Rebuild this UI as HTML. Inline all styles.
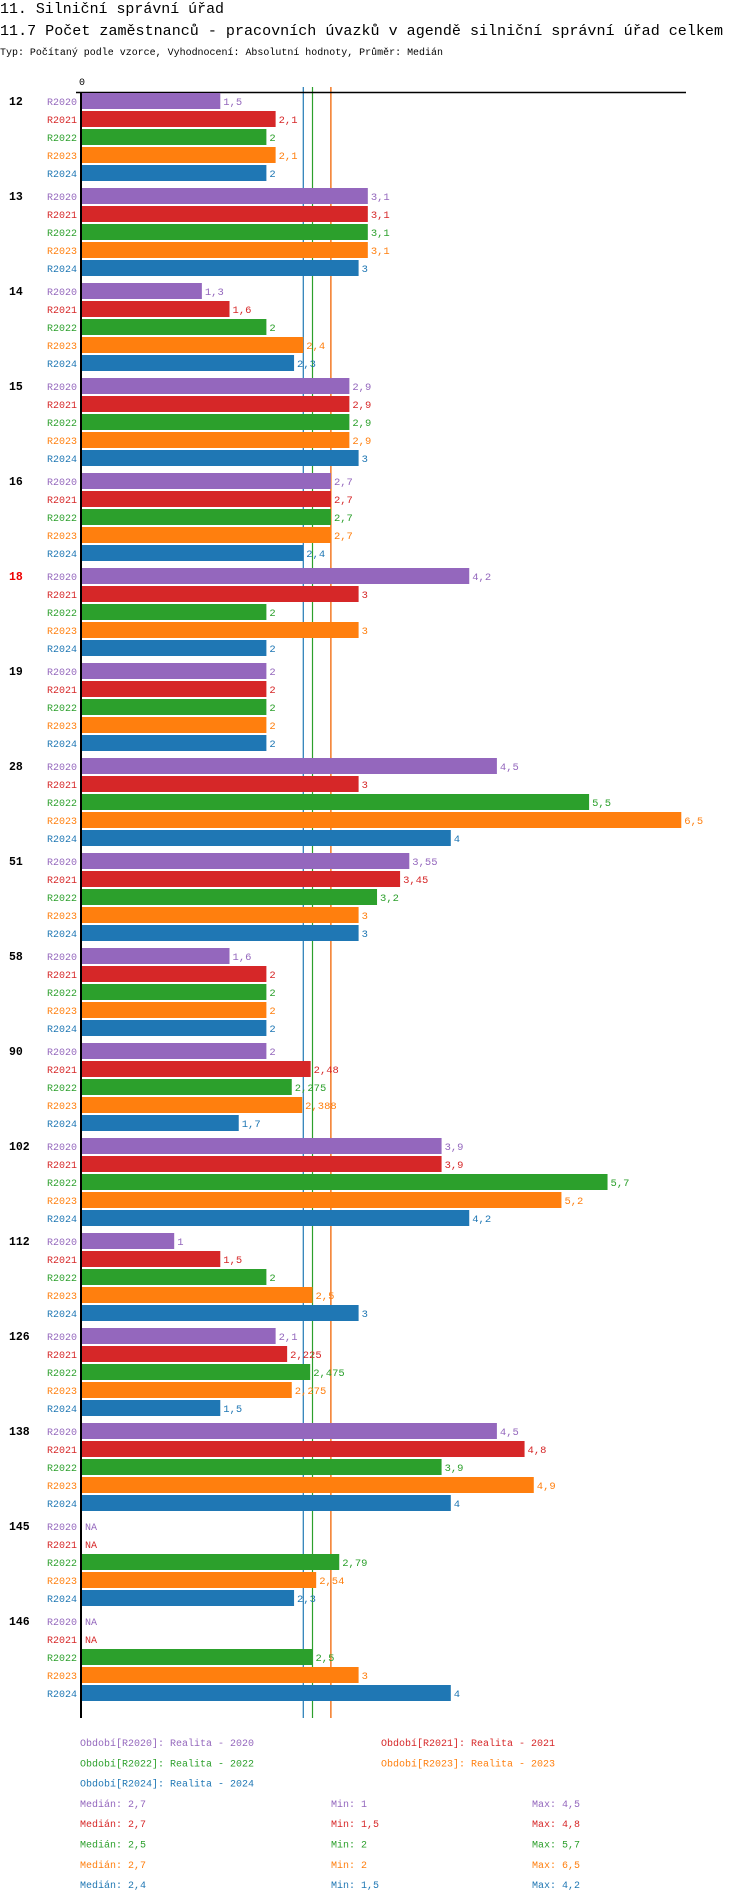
<!DOCTYPE html>
<html><head><meta charset="utf-8"><style>
body{margin:0;background:#fff;width:750px;height:1904px;overflow:hidden}
svg{display:block}
text{font-family:"Liberation Mono","DejaVu Sans Mono",monospace}
</style></head><body>
<svg id="chart" width="750" height="1904" xmlns="http://www.w3.org/2000/svg">
<text x="0" y="13" font-size="15" textLength="224" lengthAdjust="spacingAndGlyphs" fill="#000">11. Silniční správní úřad</text>
<text x="0" y="35" font-size="15" textLength="723" lengthAdjust="spacingAndGlyphs" fill="#000">11.7 Počet zaměstnanců - pracovních úvazků v agendě silniční správní úřad celkem</text>
<text x="0" y="55" font-size="10" textLength="443" lengthAdjust="spacingAndGlyphs" fill="#000">Typ: Počítaný podle vzorce, Vyhodnocení: Absolutní hodnoty, Průměr: Medián</text>
<g id="g"></g>
</svg>
<script>
const groups=["12","13","14","15","16","18","19","28","51","58","90","102","112","126","138","145","146"];
const seriesNames=["R2020","R2021","R2022","R2023","R2024"];
const s2020=[1.5,3.1,1.3,2.9,2.7,4.2,2,4.5,3.55,1.6,2,3.9,1,2.1,4.5,null,null];
const s2021=[2.1,3.1,1.6,2.9,2.7,3,2,3,3.45,2,2.48,3.9,1.5,2.225,4.8,null,null];
const s2022=[2,3.1,2,2.9,2.7,2,2,5.5,3.2,2,2.275,5.7,2,2.475,3.9,2.79,2.5];
const s2023=[2.1,3.1,2.4,2.9,2.7,3,2,6.5,3,2,2.388,5.2,2.5,2.275,4.9,2.54,3];
const s2024=[2,3,2.3,3,2.4,2,2,4,3,2,1.7,4.2,3,1.5,4,2.3,4];
const medians=[2.7,2.7,2.5,2.7,2.4];
const mins=["1","1,5","2","2","1,5"];
const maxs=["4,5","4,8","5,7","6,5","4,2"];
const medLabels=["2,7","2,7","2,5","2,7","2,4"];
const highlight=["18"];
const colors=["#9467bd","#d62728","#2ca02c","#ff7f0e","#1f77b4"];
const series=[s2020,s2021,s2022,s2023,s2024];
const NS="http://www.w3.org/2000/svg";
const g=document.getElementById('g');
const X0=82,SC=92.2,TOP=93,BH=16,STEP=18,GSTEP=95;
const x=v=>X0+v*SC;
const yb=(gi,si)=>TOP+gi*GSTEP+si*STEP;
function el(t,a,txt){const e=document.createElementNS(NS,t);for(const k in a)e.setAttribute(k,a[k]);if(txt!==undefined)e.textContent=txt;g.appendChild(e);return e;}
const bottom=yb(groups.length-1,4)+BH+17;
[0,1,2,4,3].forEach(i=>{
 const l=el('line',{x1:x(medians[i]),x2:x(medians[i]),y1:87,y2:bottom,stroke:colors[i],'stroke-width':1.2});
 
 
});
const ax=el('line',{x1:76,x2:686,y1:92.5,y2:92.5,stroke:'#000','stroke-width':1.5});


const t0=el('text',{x:x(0),y:85,'font-size':10,'text-anchor':'middle',fill:'#000'},'0');


const fmt=v=>String(v).replace('.',',');
groups.forEach((gn,gi)=>{
 const gl=el('text',{x:9,y:yb(gi,0)+12,'font-size':11.5,'font-weight':'bold',fill:highlight.includes(gn)?'#e00':'#000'},gn);
 
 
 series.forEach((s,si)=>{
  const y=yb(gi,si);
  const lab=el('text',{x:77,y:y+12,'font-size':10,'text-anchor':'end',fill:colors[si]},seriesNames[si]);
  
  
  const v=s[gi];
  if(v===null){
   const na=el('text',{x:x(0)+3,y:y+12,'font-size':10,fill:colors[si]},'NA');
   
   
   return;
  }
  const r=el('rect',{x:x(0),y:y,width:x(v)-x(0),height:BH,fill:colors[si]});
  
  
  const vl=el('text',{x:x(v)+3,y:y+12,'font-size':10.5,fill:colors[si]},fmt(v));
  
  
 });
});
const ay=el('line',{x1:81,x2:81,y1:92,y2:bottom,stroke:'#000','stroke-width':2});


const LY=1746,LS=20.3;
const legPos=[[80,0],[381,0],[80,1],[381,1],[80,2]];
seriesNames.forEach((n,i)=>{
 const t=el('text',{x:legPos[i][0],y:LY+legPos[i][1]*LS,'font-size':10,fill:colors[i]},'Období['+n+']: Realita - '+n.slice(1));
 
 
 const yy=LY+(3+i)*LS;
 const m=el('text',{x:80,y:yy,'font-size':10,fill:colors[i]},'Medián: '+medLabels[i]);
 
 
 const mi=el('text',{x:331,y:yy,'font-size':10,fill:colors[i]},'Min: '+mins[i]);
 
 
 const ma=el('text',{x:532,y:yy,'font-size':10,fill:colors[i]},'Max: '+maxs[i]);
 
 
});
</script>
</body></html>
